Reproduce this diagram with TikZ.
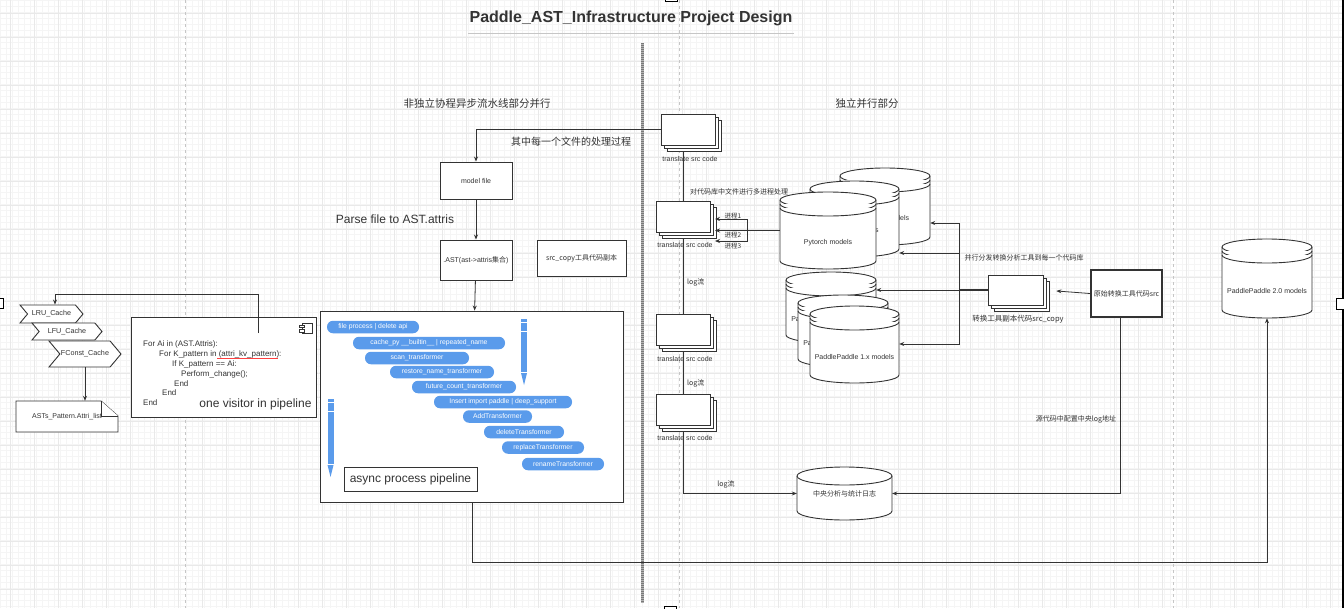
\documentclass[tikz,border=0pt]{standalone}
\usepackage{fontspec}
\setmainfont{Liberation Sans}
\newfontfamily\cjk{Noto Sans CJK SC}
\usetikzlibrary{arrows.meta}
\usetikzlibrary{shapes.symbols}
\usetikzlibrary{shadows}

\definecolor{lnc}{HTML}{333333}
\definecolor{txt}{HTML}{333333}
\definecolor{pillblue}{HTML}{5A9BEB}
\definecolor{gridmin}{HTML}{F5F5F5}
\definecolor{gridmaj}{HTML}{E9E9E9}

% name, cx, top, width, height, ry, lines, text
\newcommand{\dbshape}[8]{%
  \pgfmathsetmacro{\dbrx}{#4/2}
  \filldraw[dbline] (#2-\dbrx,#3+#6) -- (#2-\dbrx,#3+#5-#6)
     arc[start angle=180,end angle=360,x radius=\dbrx pt,y radius=#6pt]
     -- (#2+\dbrx,#3+#6)
     arc[start angle=0,end angle=180,x radius=\dbrx pt,y radius=#6pt] -- cycle;
  \draw[dbline] (#2-\dbrx,#3+#6) arc[start angle=180,end angle=360,x radius=\dbrx pt,y radius=#6pt];
  \ifnum#7>0
    \draw[dbline] (#2-\dbrx,#3+#6+4) arc[start angle=180,end angle=360,x radius=\dbrx pt,y radius=#6pt];
    \draw[dbline] (#2-\dbrx,#3+#6+8) arc[start angle=180,end angle=360,x radius=\dbrx pt,y radius=#6pt];
    \node[inner sep=0pt, minimum width=#4pt, minimum height=#5pt] (#1) at (#2,#3+#5/2) {};
    \node[lbl] (#1-t) at (#2,#3+0.66*#5) {#8};
  \else
    \node[inner sep=0pt, minimum width=#4pt, minimum height=#5pt] (#1) at (#2,#3+#5/2) {};
    \node[lbl] (#1-t) at (#2,#3+#5/2) {#8};
  \fi
}
% x, top, bottom
\newcommand{\pencil}[3]{%
  \fill[pillblue] (#1-3,#2) rectangle (#1+3,#3-13);
  \fill[pillblue] (#1-3,#3-12) -- (#1+3,#3-12) -- (#1,#3) -- cycle;
  \draw[white, line width=0.6pt] (#1-3,#2+3) -- (#1+3,#2+3) (#1-3,#2+12) -- (#1+3,#2+12);
}

\begin{document}
\begin{tikzpicture}[x=1pt, y=-1pt]
   \tikzset{>={Stealth[length=5pt,width=4pt]}}
   \tikzset{lbl/.style={text=txt, inner sep=0pt, font=\fontsize{7}{8}\selectfont}}
   \tikzset{big/.style={text=txt, inner sep=0pt, font=\fontsize{12}{14}\selectfont}}
   \tikzset{head/.style={text=txt, inner sep=0pt, font=\cjk\fontsize{10.5}{12}\selectfont}}
   \tikzset{box/.style={draw=lnc, line width=0.9pt, fill=white, inner sep=1pt, text=txt, font=\fontsize{7}{8}\selectfont}}
   \tikzset{stackbox/.style={box, minimum width=54pt, minimum height=31pt,
      copy shadow={shadow xshift=6pt, shadow yshift=-6pt, draw=lnc, fill=white, line width=0.9pt},
      copy shadow={shadow xshift=3pt, shadow yshift=-3pt, draw=lnc, fill=white, line width=0.9pt}}}
   \tikzset{cache/.style={signal, signal from=west, signal to=east, signal pointer angle=100,
      draw=lnc, line width=0.9pt, fill=white, inner sep=0pt, text=txt, font=\fontsize{7.2}{8}\selectfont}}
   \tikzset{pill/.style={fill=pillblue, text=white, rounded corners=6pt, minimum height=12.5pt,
      inner sep=0pt, font=\fontsize{6.8}{8}\selectfont}}
   \tikzset{dbline/.style={draw=lnc, line width=0.9pt, fill=white}}
   \tikzset{conn/.style={draw=lnc, line width=0.8pt}}

   \useasboundingbox (0,0) rectangle (1344,608);
   \fill[white] (0,0) rectangle (1344,608);
   \draw[gridmin, line width=0.5pt, step=6pt] (0,608) grid (1344,0);
   \draw[gridmaj, line width=0.6pt, step=24pt, shift={(10,13)}] (-10,595) grid (1334,-13);
   \foreach \px in {185,679,1173}
      \draw[gray!45, dashed, line width=0.6pt] (\px,0) -- (\px,608);
   \draw[gray!60, line width=3pt] (642,43) -- (642,603);
   \draw[gray!95!black, line width=3pt, dash pattern=on 1pt off 1pt] (642,43) -- (642,603);
   \draw[black, line width=2pt] (1343,0) -- (1343,608);
   \draw[black, fill=white, line width=0.8pt] (-5,298) rectangle (3,308);
   \draw[black, fill=white, line width=0.8pt] (1336,298) rectangle (1348,309);
   \draw[black, fill=white, line width=0.8pt] (665,-10) rectangle (677,1.5);
   \draw[black, fill=white, line width=0.8pt] (664,606) rectangle (676,616);

   \node[text=txt, inner sep=0pt, font=\bfseries\fontsize{16}{18}\selectfont] (title) at (631,18)
      {Paddle\_AST\_Infrastructure Project Design};
   \draw[gray!45, line width=1pt] (468,33) -- (794,33);
   \node[head] (hdpipe) at (477,104) {非独立协程异步流水线部分并行};
   \node[head] (hdpar) at (867,104) {独立并行部分};
   \node[head, font=\cjk\fontsize{10}{12}\selectfont] (each) at (571,142) {其中每一个文件的处理过程};
   \node[big] (parse) at (395,219) {Parse file to AST.attris};

   \node[cache, minimum width=63pt, minimum height=18pt] (lru) at (51.5,314) {LRU\_Cache};
   \node[cache, minimum width=70pt, minimum height=17pt] (lfu) at (67,331.5) {LFU\_Cache};
   \node[cache, minimum width=72pt, minimum height=26pt] (fconst) at (85,354) {FConst\_Cache};
   \node[lbl, minimum width=102pt, minimum height=31pt] (asts) at (67,416.5) {};
   \draw[dbline] (16,401) -- (101,401) -- (118,416) -- (118,432) -- (16,432) -- cycle;
   \node[lbl] (asts-t) at (asts) {ASTs\_Pattern.Attri\_list};
   \draw[dbline] (101,401) -- (101,416) -- (118,416);

   \node[box, minimum width=185pt, minimum height=100pt] (visitor) at (223.5,367) {};
   \draw[lnc, line width=0.8pt, fill=white] (302,323) rectangle (312,333);
   \draw[lnc, line width=0.8pt, fill=white] (299,325) rectangle (304,327.5);
   \draw[lnc, line width=0.8pt, fill=white] (299,329.5) rectangle (304,332);
   \foreach \cx/\cy/\t [count=\i] in {143/344/{For Ai in (AST.Attris):},
         159/354/{For K\_pattern in (attri\_kv\_pattern):},
         172/364/{If K\_pattern == Ai:}, 181/374/{Perform\_change();},
         174/384/{End}, 162/393/{End}, 143/403/{End}}
      \node[lbl, font=\fontsize{8}{9}\selectfont, anchor=west] (code\i) at (\cx,\cy) {\t};
   \draw[red!75, line width=0.4pt] (217,358.5) -- (278,358.5);
   \node[big] (onevis) at (255.5,404) {one visitor in pipeline};

   \node[box, minimum width=72pt, minimum height=37pt] (model) at (476,180.5) {model file};
   \node[box, minimum width=72pt, minimum height=40pt] (ast) at (476,260) {.AST(ast->attris{\cjk 集合})};
   \node[box, minimum width=89pt, minimum height=36pt, font=\cjk\fontsize{7}{8}\selectfont] (srccopy) at (581.5,258)
      {src\_copy工具代码副本};
   \node[box, minimum width=303pt, minimum height=191pt] (pipe) at (472,406.5) {};
   \foreach \cx/\cy/\w/\t [count=\i] in {373/327/92/{file process | delete api},
         429/343/152/{cache\_py \_\_builtin\_\_ | repeated\_name},
         417/358/104/{scan\_transformer}, 442/372/104/{restore\_name\_transformer},
         464/387/104/{future\_count\_transformer}, 503/402/138/{Insert import paddle | deep\_support},
         497.5/416.5/69/{AddTransformer}, 524/432/80/{deleteTransformer},
         543/447.5/82/{replaceTransformer}, 563/464/82/{renameTransformer}}
      \node[pill, minimum width=\w pt] (pill\i) at (\cx,\cy) {\t};
   \pencil{524}{319}{385}
   \pencil{330.5}{399}{477}
   \node[box, font=\fontsize{12}{14}\selectfont, minimum width=133pt, minimum height=24pt] (async) at (410.5,479)
      {async process pipeline};

   \node[stackbox] (tr1) at (688,129.5) {};
   \node[lbl] (tr1-l) at (690,159) {translate src code};
   \node[stackbox] (tr2) at (683,216.5) {};
   \node[lbl] (tr2-l) at (685,245) {translate src code};
   \node[stackbox] (tr3) at (683,329.5) {};
   \node[lbl] (tr3-l) at (685,359) {translate src code};
   \node[stackbox] (tr4) at (683,410) {};
   \node[lbl] (tr4-l) at (685,438) {translate src code};
   \node[lbl, font=\cjk\fontsize{7}{8}\selectfont] (multi) at (739,192) {对代码库中文件进行多进程处理};

   \dbshape{pyt3}{885}{168}{90}{77}{8}{1}{Pytorch models}
   \dbshape{pyt2}{854.5}{181}{89}{76}{8}{1}{Pytorch models}
   \dbshape{pyt1}{828}{192}{96}{77}{8}{1}{Pytorch models}
   \dbshape{pd3}{831}{272}{90}{71}{8}{1}{PaddlePaddle 1.x models}
   \dbshape{pd2}{843}{295}{90}{72}{8}{1}{PaddlePaddle 1.x models}
   \dbshape{pd1}{854.5}{306}{89}{77}{8}{1}{PaddlePaddle 1.x models}
   \dbshape{pd20}{1267}{239}{90}{79}{8}{1}{PaddlePaddle 2.0 models}
   \dbshape{logdb}{844.5}{467}{95}{53}{9}{0}{{\cjk 中央分析与统计日志}}

   \node[stackbox, minimum width=55pt, minimum height=30pt] (scp) at (1015.5,290) {};
   \node[lbl, font=\cjk\fontsize{7.5}{8}\selectfont] (scp-l) at (1018,319) {转换工具副本代码src\_copy};
   \node[box, line width=2pt, minimum width=71pt, minimum height=47pt, font=\cjk\fontsize{7}{8}\selectfont] (orig) at (1126.5,293.5)
      {原始转换工具代码src};
   \node[lbl, font=\cjk\fontsize{7}{8}\selectfont] (spread) at (1024,258) {并行分发转换分析工具到每一个代码库};
   \node[lbl, font=\cjk\fontsize{7}{8}\selectfont] (logaddr) at (1076,419) {源代码中配置中央log地址};

   \coordinate (vsrc) at (258,333);
   \coordinate (fork) at (747,230.5);
   \coordinate (fork2) at (959,290);
   \draw[conn, ->] (vsrc) -- ++(0,-39) -| ([xshift=3.5pt]lru.north);
   \draw[conn, ->] (fconst.south) -- (fconst.south |- asts.north);
   \draw[conn, ->] (tr1.west) -| (model.north);
   \draw[conn, ->] (model) -- (ast);
   \draw[conn, ->] (ast) -- (pipe);
   \draw[conn, shorten >=6pt] (tr2.north) -- (tr2.north |- tr1.south);
   \draw[conn, shorten <=6pt] (tr2.south) -- (tr3.north);
   \draw[conn, shorten <=6pt] (tr3.south) -- (tr4.north);
   \draw[conn, shorten <=6pt, ->] (tr4.south) |- (logdb.west);
   \node[lbl, font=\cjk\fontsize{7}{8}\selectfont, anchor=west] (log1) at (687,282) {log流};
   \node[lbl, font=\cjk\fontsize{7}{8}\selectfont, anchor=west] (log2) at (687,383) {log流};
   \node[lbl, font=\cjk\fontsize{7}{8}\selectfont] (log3) at (726,484) {log流};
   \draw[conn, line width=1.6pt] (pyt1.west) -- (fork);
   \draw[conn, ->] (fork) |- (715,219);
   \draw[conn, ->] (fork) -- (715,230.5);
   \draw[conn, ->] (fork) |- (715,241);
   \node[lbl, font=\cjk\fontsize{6.5}{8}\selectfont] (proc1) at (733,216) {进程1};
   \node[lbl, font=\cjk\fontsize{6.5}{8}\selectfont] (proc2) at (733,235) {进程2};
   \node[lbl, font=\cjk\fontsize{6.5}{8}\selectfont] (proc3) at (733,246) {进程3};
   \draw[conn, line width=1.6pt] (scp.west) -- (fork2);
   \draw[conn, ->] (fork2) |- (pyt3.east |- 0,223);
   \draw[conn, ->] (fork2) |- (pyt2.east |- 0,253);
   \draw[conn, ->] (fork2) -- (pd3.east |- fork2);
   \draw[conn, ->] (fork2) |- (pd1.east |- 0,344);
   \draw[conn, ->, shorten >=13pt] (orig.west) -- (scp.east);
   \draw[conn, ->] ([xshift=-6.5pt]orig.south) |- (logdb.east);
   \draw[conn, ->] (pipe.south) -- (pipe.south |- 0,562) -| (pd20.south);
\end{tikzpicture}
\end{document}
